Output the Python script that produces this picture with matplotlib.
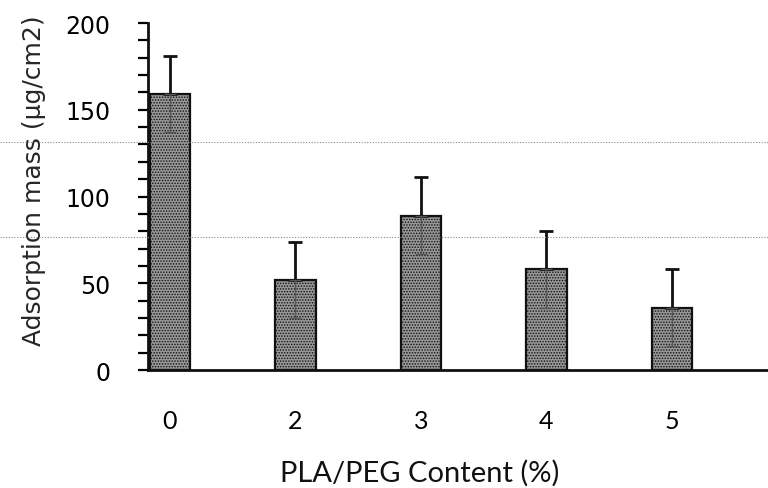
import matplotlib
matplotlib.use("Agg")
import matplotlib.pyplot as plt
from matplotlib.ticker import MultipleLocator
from matplotlib.lines import Line2D

# PLA/PEG content categories and measured adsorption mass
categories = ["0", "2", "3", "4", "5"]
adsorption = [159, 52, 89, 58, 36]
error = [22, 22, 22, 22, 22]

plt.rcParams["font.family"] = ["DejaVu Sans"]
plt.rcParams["hatch.color"] = "#2e2e2e"
plt.rcParams["hatch.linewidth"] = 0.7

fig = plt.figure(figsize=(7.68, 4.89), dpi=100)
ax = fig.add_axes([0.1927, 0.2413, 0.8073, 0.7096])

x = list(range(len(categories)))
ax.bar(x, adsorption, width=0.32, color="#979797", edgecolor="#111111",
       linewidth=1.6, hatch="......", zorder=2)

# upper whiskers in black, lower whiskers faint inside the bars
ax.errorbar(x, adsorption, yerr=[[0] * len(error), error], fmt="none",
            ecolor="#111111", elinewidth=2, capsize=5, capthick=2, zorder=3)
ax.errorbar(x, adsorption, yerr=[error, [0] * len(error)], fmt="none",
            ecolor="#555555", elinewidth=1, capsize=4, capthick=1, zorder=3)

ax.set_xlim(-0.175, 4.765)
ax.set_ylim(0, 200)
ax.set_xticks(x)
ax.set_xticklabels(categories, fontsize=18, fontfamily="Lato")
ax.yaxis.set_major_locator(MultipleLocator(50))
ax.yaxis.set_minor_locator(MultipleLocator(10))
ax.tick_params(axis="x", length=0, pad=28)
ax.tick_params(axis="y", which="both", direction="out", length=7, width=1.6,
               labelsize=17, pad=20)

for side in ("top", "right"):
    ax.spines[side].set_visible(False)
for side in ("left", "bottom"):
    ax.spines[side].set_linewidth(2)
    ax.spines[side].set_color("#111111")

ax.set_ylabel("Adsorption mass (µg/cm2)", fontsize=18, color="#262626",
              fontfamily="DejaVu Sans")
ax.yaxis.set_label_coords(-0.165, 0.548)
ax.set_xlabel("PLA/PEG Content (%)", fontsize=21, fontfamily="Lato",
              color="#111111")
ax.xaxis.set_label_coords(0.439, -0.256)

# faint dotted rules running across the page
for yf in (1 - 143 / 489, 1 - 238 / 489):
    fig.add_artist(Line2D([0, 1], [yf, yf], transform=fig.transFigure,
                          color="#8a8a8a", linewidth=0.8, linestyle=(0, (1, 1.5)),
                          zorder=1))

fig.savefig("out.png", dpi=100)
